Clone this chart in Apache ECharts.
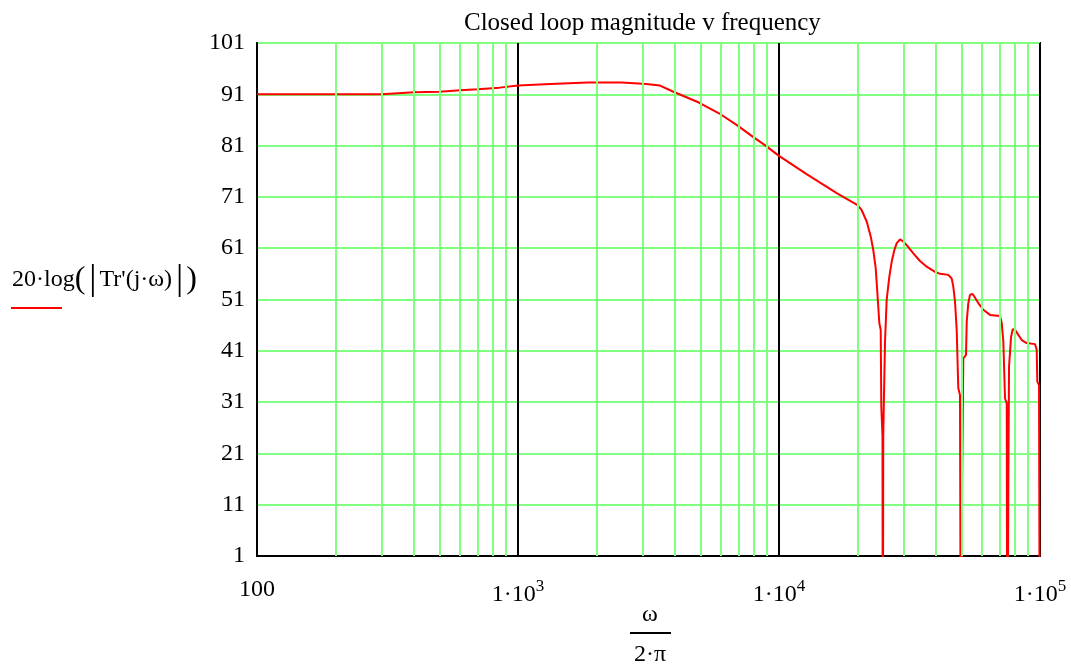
<!DOCTYPE html>
<html>
<head>
<meta charset="utf-8">
<script src="https://cdn.jsdelivr.net/npm/echarts@6/dist/echarts.min.js"></script>
<style>
html,body{margin:0;padding:0;background:#fff;}
#chart{width:1071px;height:668px;}
</style>
</head>
<body>
<div id="chart"></div>
<script>
// frequency (omega / 2pi), Hz
var freqs = [
  100, 200, 300, 400, 500, 600, 700, 850, 1000, 1330,
  1850, 2500, 3100, 3500, 3900, 4930, 5890, 6900, 7950, 8830,
  10000, 12800, 16700, 20000, 20740, 21680, 22460, 22980, 23470, 23800,
  24230, 24530, 24660, 24920, 25000, 25080, 25180, 25470, 25850, 26460,
  27030, 27660, 28250, 29090, 29790, 30850, 32710, 34690, 36810, 39600,
  41390, 44540, 45890, 46540, 47240, 47950, 48640, 49370, 49810, 50300,
  50830, 52060, 52390, 53130, 53920, 55030, 56010, 58010, 60640, 64340,
  70270, 71350, 72360, 73450, 74570, 74960, 75620, 76090, 77460, 78620,
  80210, 82590, 85110, 88920, 95680, 97140, 97650, 99130, 100000
];
// 20*log(|Tr'(j*omega)|), dB
var magnitudes = [
  91.0, 91.0, 91.0, 91.4, 91.5, 91.8, 92.0, 92.3, 92.7, 93.0,
  93.3, 93.3, 93.0, 92.7, 91.6, 89.4, 87.3, 85.0, 82.7, 81.1,
  79.0, 75.4, 71.7, 69.4, 68.4, 66.2, 63.3, 60.6, 57.1, 52.5,
  46.4, 45.1, 30.1, 24.3, -40, 24.0, 28.9, 42.5, 50.9, 55.4,
  58.4, 60.6, 62.0, 62.7, 62.4, 61.6, 60.0, 58.5, 57.4, 56.4,
  56.0, 55.8, 55.1, 53.5, 50.6, 45.1, 33.7, 32.4, -40, 14.5,
  39.5, 40.2, 46.7, 50.3, 51.9, 52.1, 51.6, 50.3, 49.0, 48.0,
  47.8, 46.4, 42.8, 31.7, 30.8, -40, 15.2, 37.9, 43.7, 45.2,
  45.1, 44.1, 43.1, 42.5, 42.3, 41.2, 35.0, 34.3, -40
];
var xDecades = [100, 1000, 10000, 100000];
var xTickLabels = {100: '{n|100}', 1000: '{n|1·10}{s|3}', 10000: '{n|1·10}{s|4}', 100000: '{n|1·10}{s|5}'};
var yMin = 1, yMax = 101, yStep = 10;
var titleText = 'Closed loop magnitude v frequency';

var minorGrid = [];
for (var d = 0; d < xDecades.length - 1; d++) {
  for (var k = 2; k <= 9; k++) minorGrid.push({xAxis: xDecades[d] * k});
}
var lineData = freqs.map(function (f, i) { return [f, magnitudes[i]]; });

var FONT = '"Liberation Serif", "Times New Roman", serif';
var GREEN = '#80ff80';

var chart = echarts.init(document.getElementById('chart'), null, {renderer: 'canvas'});
chart.setOption({
  animation: false,
  backgroundColor: '#ffffff',
  title: {
    text: titleText, left: 459, top: 6,
    textStyle: {fontFamily: FONT, fontSize: 25, fontWeight: 'normal', color: '#000'}
  },
  grid: {left: 257, right: 31, top: 43, bottom: 112, show: true, borderColor: '#000', borderWidth: 2, containLabel: false},
  xAxis: {
    type: 'log', logBase: 10, min: 100, max: 100000,
    axisLine: {show: true, lineStyle: {color: '#000', width: 2}},
    axisTick: {show: false},
    splitLine: {show: true, lineStyle: {color: '#000', width: 2}},
    axisLabel: {
      margin: 22, color: '#000',
      formatter: function (v) { return xTickLabels[Math.round(v)] || ''; },
      rich: {
        n: {fontFamily: FONT, fontSize: 24, color: '#000'},
        s: {fontFamily: FONT, fontSize: 17, color: '#000', padding: [0, 0, 16, 0]}
      }
    }
  },
  yAxis: {
    type: 'value', min: yMin, max: yMax, interval: yStep,
    axisLine: {show: true, lineStyle: {color: '#000', width: 2}},
    axisTick: {show: false},
    splitLine: {show: true, lineStyle: {color: GREEN, width: 2}},
    axisLabel: {margin: 12, fontFamily: FONT, fontSize: 24, color: '#000'}
  },
  series: [
    {
      type: 'line', data: [], z: 1, silent: true,
      markLine: {
        silent: true, symbol: 'none', animation: false,
        label: {show: false},
        lineStyle: {color: GREEN, width: 2, type: 'solid'},
        data: minorGrid
      }
    },
    {
      type: 'line', data: lineData, z: 3, showSymbol: false, symbol: 'none', clip: true,
      lineStyle: {color: '#ff0000', width: 2}
    }
  ],
  graphic: [
    {
      type: 'text', left: 12, top: 262,
      style: {
        text: '{a|20·log}{p|(}{b||}{a|Tr\'(j·ω)}{b||}{p|)}',
        rich: {
          a: {fontFamily: FONT, fontSize: 24, fill: '#000'},
          p: {fontFamily: FONT, fontSize: 32, fill: '#000'},
          b: {fontFamily: FONT, fontSize: 36, fill: '#000', padding: [0, 3, 0, 4]}
        }
      }
    },
    {type: 'line', shape: {x1: 11, y1: 308, x2: 62, y2: 308}, style: {stroke: '#ff0000', lineWidth: 2}},
    {type: 'text', style: {text: 'ω', x: 650, y: 615, textAlign: 'center', textVerticalAlign: 'middle', font: '24px ' + FONT, fill: '#000'}},
    {type: 'line', shape: {x1: 630, y1: 633, x2: 671, y2: 633}, style: {stroke: '#000', lineWidth: 2}},
    {type: 'text', style: {text: '2·π', x: 650, y: 655, textAlign: 'center', textVerticalAlign: 'middle', font: '24px ' + FONT, fill: '#000'}}
  ]
});
</script>
</body>
</html>
